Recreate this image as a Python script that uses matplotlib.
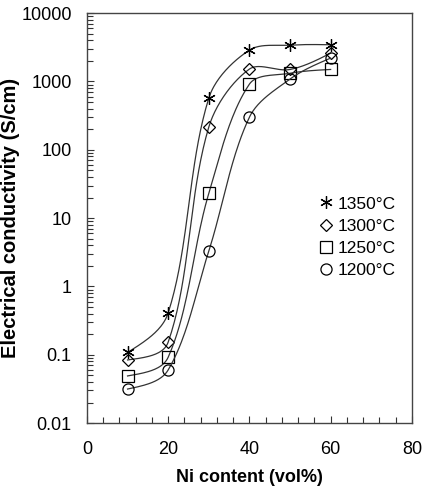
import numpy as np
import matplotlib.pyplot as plt
from matplotlib.ticker import MultipleLocator, LogLocator, FixedLocator, FuncFormatter, NullFormatter

plt.rcParams['font.family'] = ['Liberation Sans', 'DejaVu Sans']

ni_content = [10, 20, 30, 40, 50, 60]
sigma_1350 = [0.108, 0.41, 570, 2880, 3400, 3450]
sigma_1300 = [0.084, 0.153, 215, 1520, 1500, 2600]
sigma_1250 = [0.049, 0.092, 23, 915, 1320, 1500]
sigma_1200 = [0.0315, 0.060, 3.3, 300, 1085, 2200]

series = [
    ('1350°C', sigma_1350, (6, 2, 0), 9),
    ('1300°C', sigma_1300, 'D', 6),
    ('1250°C', sigma_1250, 's', 8),
    ('1200°C', sigma_1200, 'o', 8),
]

# pixel scale of the axes, used to weight the smoothing like a spreadsheet does
PX_PER_X = 325 / 80
PX_PER_DEC = 410 / 6


def smooth(x, y, n=40, s=1 / 3):
    # Bezier through the points in screen space; control arms weighted by segment length
    P = np.column_stack([np.asarray(x, float) * PX_PER_X,
                         np.log10(np.asarray(y, float)) * PX_PER_DEC])
    m = len(P)
    d = np.linalg.norm(np.diff(P, axis=0), axis=1)
    c_out = np.zeros_like(P)
    c_in = np.zeros_like(P)
    for i in range(1, m - 1):
        T = P[i + 1] - P[i - 1]
        tot = d[i - 1] + d[i]
        c_out[i] = P[i] + T * s * d[i] / tot
        c_in[i] = P[i] - T * s * d[i - 1] / tot
    c_out[0] = P[0] + (c_in[1] - P[0]) * 0.5
    c_in[-1] = P[-1] + (c_out[-2] - P[-1]) * 0.5
    t = np.linspace(0, 1, n)[:, None]
    pts = []
    for i in range(m - 1):
        a, b, c, e = P[i], c_out[i], c_in[i + 1], P[i + 1]
        pts.append((1 - t) ** 3 * a + 3 * (1 - t) ** 2 * t * b + 3 * (1 - t) * t ** 2 * c + t ** 3 * e)
    pts = np.vstack(pts)
    return pts[:, 0] / PX_PER_X, 10 ** (pts[:, 1] / PX_PER_DEC)


fig = plt.figure(figsize=(4.22, 4.88), dpi=100)
ax = fig.add_axes([0.206, 0.133, 0.770, 0.840])

for label, vals, marker, ms in series:
    sx, sy = smooth(ni_content, vals)
    ax.plot(sx, sy, color='#333333', lw=0.9)
    ax.plot(ni_content, vals, linestyle='none', marker=marker, ms=ms,
            mfc='none', mec='black', mew=0.9, label=label)

ax.set_yscale('log')
ax.set_xlim(0, 80)
ax.set_ylim(0.01, 10000)
ax.xaxis.set_major_locator(MultipleLocator(20))
ax.xaxis.set_minor_locator(MultipleLocator(4))
ax.yaxis.set_major_locator(FixedLocator([0.01, 0.1, 1, 10, 100, 1000, 10000]))
ax.yaxis.set_minor_locator(LogLocator(base=10, subs=np.arange(2, 10)))
ax.yaxis.set_minor_formatter(NullFormatter())
ax.yaxis.set_major_formatter(FuncFormatter(lambda v, p: ('%g' % v)))

ax.tick_params(which='both', direction='in', top=False, right=False,
               labelsize=13, width=0.8, color='#333333')
ax.tick_params(which='major', length=5)
ax.tick_params(which='minor', length=4)
ax.tick_params(axis='x', which='major', pad=13)
ax.tick_params(axis='y', which='major', pad=11)
for s in ax.spines.values():
    s.set_color('#444444')
    s.set_linewidth(1.0)

ax.set_xlabel('Ni content (vol%)', fontsize=13, fontweight='bold', labelpad=8)
ax.set_ylabel('Electrical conductivity (S/cm)', fontsize=14.5, fontweight='bold', labelpad=1)

ax.legend(loc='upper left', bbox_to_anchor=(0.68, 0.57), frameon=False,
          fontsize=12.5, handletextpad=0.0, handlelength=1.3, labelspacing=0.4,
          borderaxespad=0)

fig.savefig('out.png', dpi=100)
